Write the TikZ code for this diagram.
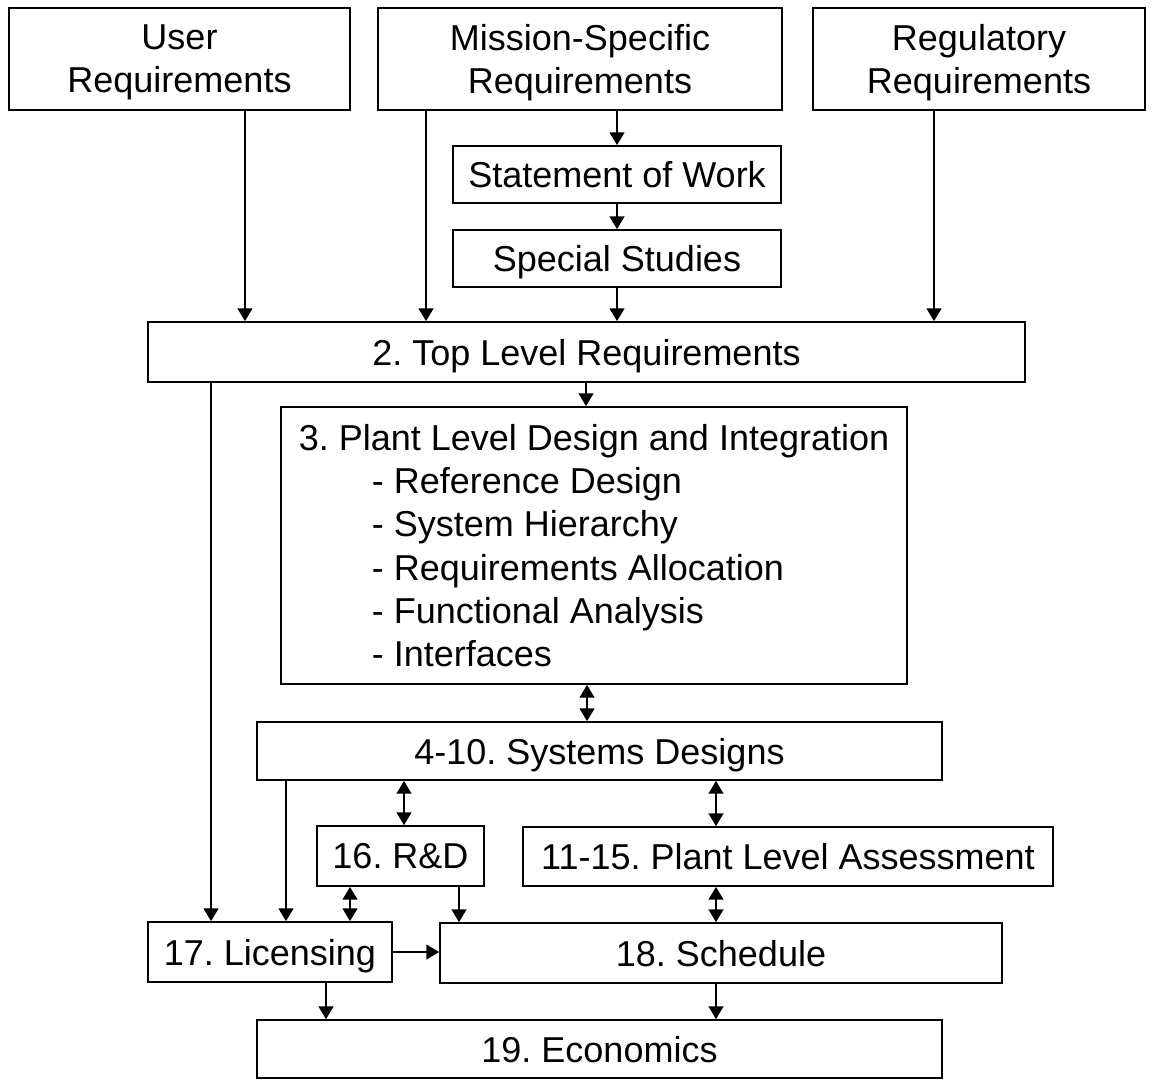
\documentclass[tikz,border=0pt]{standalone}
\usepackage{fontspec}
\setmainfont{Liberation Sans}
\usetikzlibrary{arrows.meta}
\frenchspacing
\begin{document}
\begin{tikzpicture}[x=0.75pt,y=-0.75pt,
  box/.style={draw=black, line width=1.3pt, inner sep=0pt, align=center, text depth=0pt,
    font=\fontsize{27}{32.4}\selectfont},
  tip/.style={Triangle[length=9.5pt,width=11pt]},
  arr/.style={line width=1.3pt, -{Triangle[length=9.5pt,width=11pt]}},
  darr/.style={line width=1.3pt, {Triangle[length=9.5pt,width=11pt]}-{Triangle[length=9.5pt,width=11pt]}}]
\useasboundingbox (0,0) rectangle (1155,1079);
% boxes
\node[box, minimum width=341*0.75pt, minimum height=102*0.75pt] (user) at (179.5,59) {User\\Requirements};
\node[box, minimum width=404*0.75pt, minimum height=102*0.75pt] (mission) at (580,59) {Mission-Specific\\Requirements};
\node[box, minimum width=332*0.75pt, minimum height=102*0.75pt] (reg) at (979,59) {Regulatory\\Requirements};
\node[box, minimum width=328*0.75pt, minimum height=57*0.75pt] (sow) at (617,174.5) {Statement of Work};
\node[box, minimum width=328*0.75pt, minimum height=57*0.75pt] (ss) at (617,258.5) {Special Studies};
\node[box, minimum width=877*0.75pt, minimum height=60*0.75pt] (top) at (586.5,352) {2. Top Level Requirements};
\node[box, align=left, minimum width=626*0.75pt, minimum height=277*0.75pt] (plant) at (594,545.5)
  {3. Plant Level Design and Integration\\
   \hspace*{54.75pt}- Reference Design\\
   \hspace*{54.75pt}- System Hierarchy\\
   \hspace*{54.75pt}- Requirements Allocation\\
   \hspace*{54.75pt}- Functional Analysis\\
   \hspace*{54.75pt}- Interfaces};
\node[box, minimum width=685*0.75pt, minimum height=58*0.75pt] (sys) at (599.5,751) {4-10. Systems Designs};
\node[box, minimum width=167*0.75pt, minimum height=60*0.75pt] (rd) at (400.5,856) {16. R\&D};
\node[box, minimum width=530*0.75pt, minimum height=59*0.75pt] (pla) at (788,856.5) {11-15. Plant Level Assessment};
\node[box, minimum width=244*0.75pt, minimum height=60*0.75pt] (lic) at (270,952) {17. Licensing};
\node[box, minimum width=562*0.75pt, minimum height=60*0.75pt] (sch) at (721,953) {18. Schedule};
\node[box, minimum width=685*0.75pt, minimum height=58*0.75pt] (eco) at (599.5,1049) {19. Economics};
% connectors
\draw[arr] (245,0 |- user.south) -- (245,0 |- top.north);
\draw[arr] (426,0 |- mission.south) -- (426,0 |- top.north);
\draw[arr] (617,0 |- mission.south) -- (sow.north);
\draw[arr] (sow.south) -- (ss.north);
\draw[arr] (ss.south) -- (617,0 |- top.north);
\draw[arr] (934,0 |- reg.south) -- (934,0 |- top.north);
\draw[arr] (586,0 |- top.south) -- (586,0 |- plant.north);
\draw[arr] (211,0 |- top.south) -- (211,0 |- lic.north);
\draw[darr] (587,0 |- plant.south) -- (587,0 |- sys.north);
\draw[arr] (286,0 |- sys.south) -- (286,0 |- lic.north);
\draw[darr] (404,0 |- sys.south) -- (404,0 |- rd.north);
\draw[darr] (716,0 |- sys.south) -- (716,0 |- pla.north);
\draw[darr] (350,0 |- rd.south) -- (350,0 |- lic.north);
\draw[arr] (459,0 |- rd.south) -- (459,0 |- sch.north);
\draw[darr] (716,0 |- pla.south) -- (716,0 |- sch.north);
\draw[arr] (lic.east |- 0,952) -- (sch.west |- 0,952);
\draw[arr] (326,0 |- lic.south) -- (326,0 |- eco.north);
\draw[arr] (716,0 |- sch.south) -- (716,0 |- eco.north);
\end{tikzpicture}
\end{document}
